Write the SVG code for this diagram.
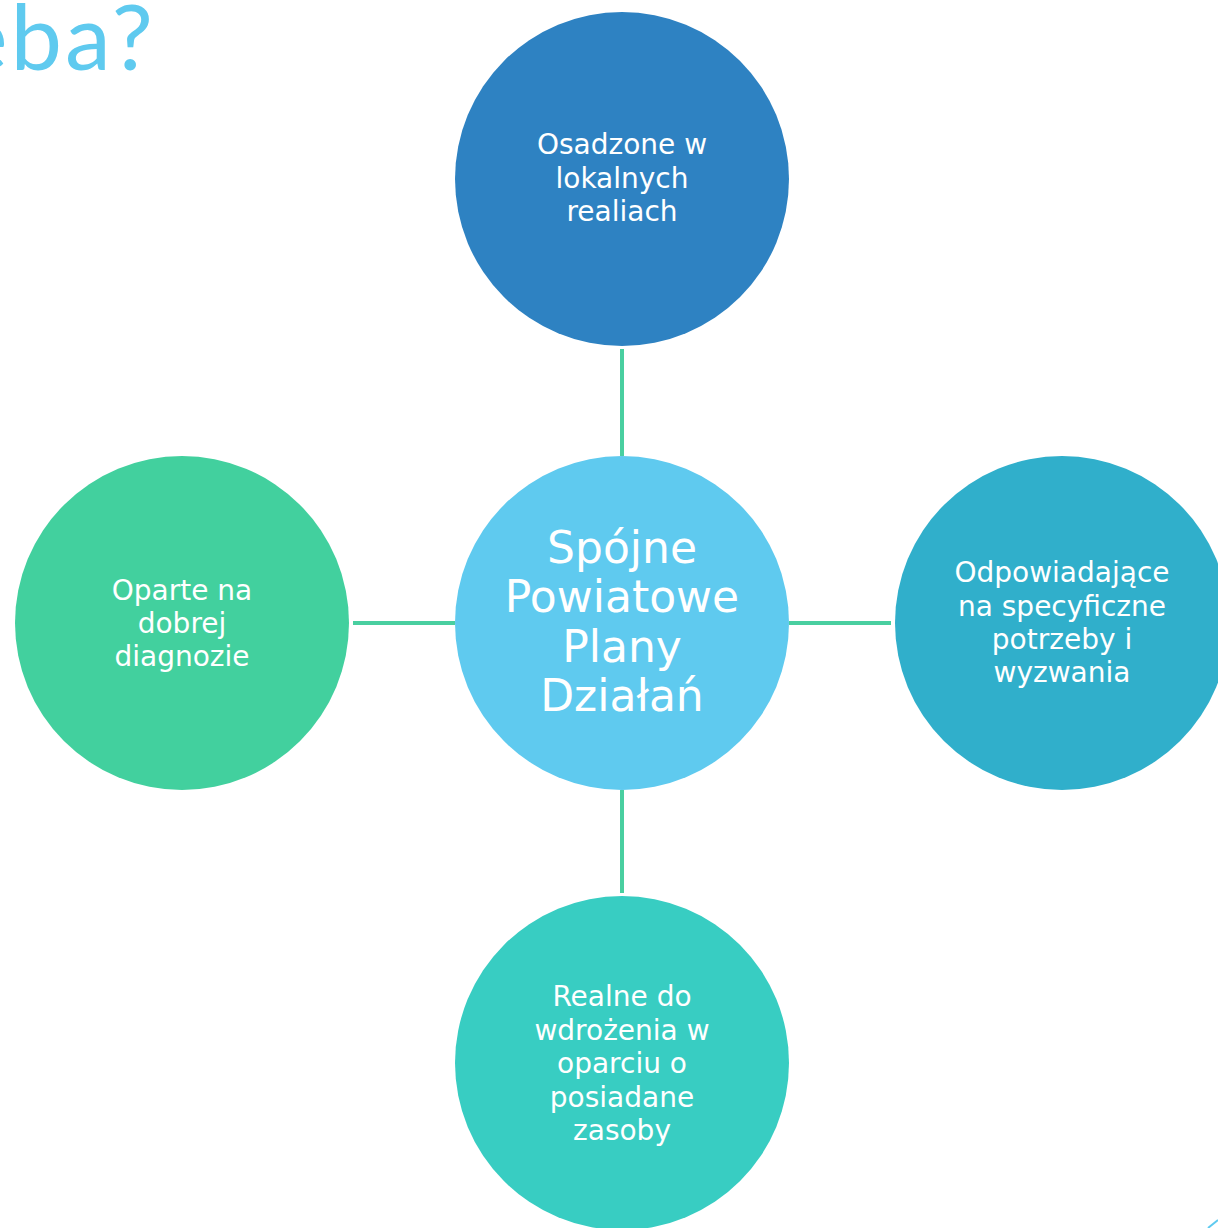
<svg xmlns="http://www.w3.org/2000/svg" width="1218" height="1228" viewBox="0 0 1218 1228">
<style>
.t{font-family:"DejaVu Sans",Verdana,sans-serif;font-size:28px;fill:#ffffff;text-anchor:middle}
.c{font-family:"DejaVu Sans",Verdana,sans-serif;font-size:44px;fill:#ffffff;text-anchor:middle}
.ln{stroke:#49CFA0;stroke-width:4;fill:none}
</style>
<rect width="1218" height="1228" fill="#ffffff"/>
<text x="-41" y="70" font-family="Lato,'Open Sans',sans-serif" font-size="92" letter-spacing="3" fill="#5FCAEF">eba?</text>
<path d="M1208 1228 L1218 1220" stroke="#5FCAEF" stroke-width="2" fill="none"/>
<g id="connectors">
<line class="ln" x1="622" y1="349" x2="622" y2="456"/>
<line class="ln" x1="622" y1="790" x2="622" y2="893"/>
<line class="ln" x1="353" y1="623" x2="455" y2="623"/>
<line class="ln" x1="789" y1="623" x2="891" y2="623"/>
</g>
<g id="top">
<circle cx="622" cy="179" r="167" fill="#2E82C2"/>
<text class="t" x="622" y="154">Osadzone w</text>
<text class="t" x="622" y="188">lokalnych</text>
<text class="t" x="622" y="221">realiach</text>
</g>
<g id="center">
<circle cx="622" cy="623" r="167" fill="#5FCAEF"/>
<text class="c" x="622" y="563">Spójne</text>
<text class="c" x="622" y="612">Powiatowe</text>
<text class="c" x="622" y="662">Plany</text>
<text class="c" x="622" y="711">Działań</text>
</g>
<g id="right">
<circle cx="1062" cy="623" r="167" fill="#30AFCB"/>
<text class="t" x="1062" y="582">Odpowiadające</text>
<text class="t" x="1062" y="616">na specyficzne</text>
<text class="t" x="1062" y="649">potrzeby i</text>
<text class="t" x="1062" y="682">wyzwania</text>
</g>
<g id="left">
<circle cx="182" cy="623" r="167" fill="#42D09E"/>
<text class="t" x="182" y="600">Oparte na</text>
<text class="t" x="182" y="633">dobrej</text>
<text class="t" x="182" y="666">diagnozie</text>
</g>
<g id="bottom">
<circle cx="622" cy="1063" r="167" fill="#38CDC2"/>
<text class="t" x="622" y="1006">Realne do</text>
<text class="t" x="622" y="1040">wdrożenia w</text>
<text class="t" x="622" y="1073">oparciu o</text>
<text class="t" x="622" y="1107">posiadane</text>
<text class="t" x="622" y="1140">zasoby</text>
</g>
</svg>
